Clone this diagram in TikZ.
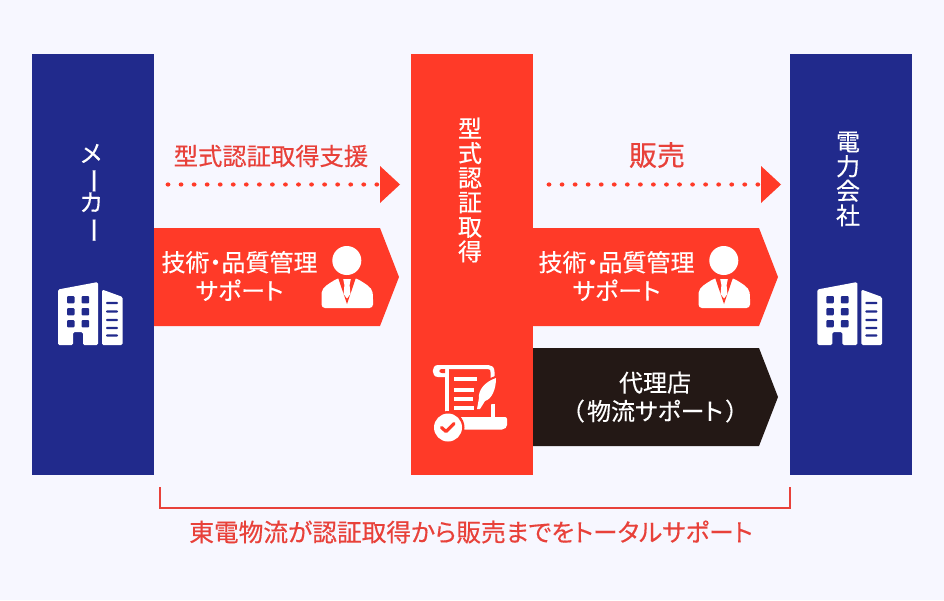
\documentclass[tikz,border=0pt]{standalone}
\usepackage{fontspec}
\setmainfont{Noto Sans CJK JP}[FakeBold=0.35, RawFeature=+palt]
\usepackage{graphicx}
\definecolor{navyblue}{HTML}{212A8C}
\definecolor{redfill}{HTML}{FF3A28}
\definecolor{redtext}{HTML}{E8413A}
\definecolor{blackfill}{HTML}{231815}
\definecolor{backfill}{HTML}{F7F7FF}
\tikzset{
	label/.style={text=white, align=center, inner sep=0pt},
	vertlabel/.style={label, font=\fontsize{24}{24.6}\selectfont},
	bannerlabel/.style={label, font=\fontsize{24}{28.5}\selectfont},
	titlelabel/.style={text=redtext, inner sep=0pt, font=\fontsize{24.3}{28}\selectfont},
}
\newcommand{\longbar}{\smash{\kern-3pt\rotatebox[origin=c]{-90}{\scalebox{1.1}[1.15]{ー}}}}
\newcommand{\arrowdots}[2] % x start, x of triangle
{
	\foreach \i in {0,...,16}
		\fill[redfill] (#1+13.05*\i,184.5) ellipse (2.4 and 2.1);
	\fill[redfill] (#2,166) -- (#2+20,184.5) -- (#2,203) -- cycle;
}
\newcommand{\banner}[4] % x start, x corner, y top, colour
{
	\fill[#4] (#1,#3) -- (#2,#3) -- (#2+19,#3+49) -- (#2,#3+98) -- (#1,#3+98) -- cycle;
}
\newcommand{\building}[1] % x shift
{
	\begin{scope}[xshift=#1pt]
	% two blocks
	\fill[white, rounded corners=1.5pt] (58,345) -- (58,289.5) -- (98,282) -- (98,345) -- (83,345) -- (83,332) -- (73,332) -- (73,345) -- cycle;
	\fill[white, rounded corners=1.5pt] (102,289.5) -- (122.7,297) -- (122.7,345) -- (102,345) -- cycle;
	% windows
	\foreach \y in {296,308,320}
	{
		\fill[navyblue, rounded corners=1pt] (67,\y) rectangle (74.5,\y+7.4);
		\fill[navyblue, rounded corners=1pt] (81.5,\y) rectangle (89.2,\y+7.4);
	}
	\foreach \y in {303,311.5,320,328,335.5}
		\fill[navyblue, rounded corners=1pt] (106,\y-1.2) rectangle (118,\y+1.2);
	\end{scope}
}
\newcommand{\person}[1] % x shift
{
	\begin{scope}[xshift=#1pt]
	\fill[white] (346.8,260.5) circle (14.5);
	\fill[white, rounded corners=3.5pt] (321.5,308) -- (321.5,296) .. controls (322,287) and (330,283) .. (338,278) -- (356,278) .. controls (364,283) and (372,287) .. (373,296) -- (373,308) -- cycle;
	% collar and tie
	\fill[redfill] (338,277.5) -- (356,277.5) -- (347,304) -- cycle;
	\fill[white] (343.2,279) -- (350.8,279) -- (349.6,285) -- (350.4,294) -- (347,298.5) -- (343.6,294) -- (344.4,285) -- cycle;
	\end{scope}
}
\newcommand{\scrollicon}
{
	% sheet
	\draw[white, line width=4pt, line join=round] (447,367) -- (488,367) .. controls (491,367) and (492.5,368.5) .. (492.5,372) -- (492.5,384);
	\draw[white, line width=4pt] (492.5,404) -- (492.5,419);
	\draw[white, line width=4pt] (447,367) -- (447,412);
	\fill[white] (447,365) -- (438,365) .. controls (431,365) and (431,377) .. (438,377) -- (447,377) -- cycle;
	\fill[redfill] (442,369) .. controls (438.5,369) and (438.5,373) .. (442,373) -- (445,373) -- (445,369) -- cycle;
	% lines
	\foreach \y/\x in {379/477,390/474,399/473,408/474}
		\fill[white] (454,\y-1.7) rectangle (\x,\y+1.7);
	% feather
	\fill[redfill] (500,374) -- (476,384) -- (474,412) -- (492,404) -- cycle;
	\fill[white] (496,378) .. controls (484,382) and (478,391) .. (479,398) -- (477,409) -- (480,409) -- (485,401) .. controls (492,399) and (496,389) .. (496,378) -- cycle;
	% base
	\fill[white, rounded corners=2pt] (455,417) -- (507,417) -- (507,423) .. controls (507,427) and (505,429.5) .. (500,429.5) -- (455,429.5) -- cycle;
	% check badge
	\fill[redfill] (448,427.5) circle (16.5);
	\fill[white] (448,427.5) circle (14);
	\draw[redfill, line width=3.2pt, line cap=round, line join=round] (441.5,427.5) -- (446,431.5) -- (454,423.5);
}

\begin{document}
\begin{tikzpicture}[x=1pt, y=-1pt]
	\useasboundingbox (0,0) rectangle (944,600);
	\fill[backfill] (0,0) rectangle (944,600);
	
	% columns
	\fill[navyblue] (32,54) rectangle (154,475);
	\fill[redfill] (411,54) rectangle (533,475);
	\fill[navyblue] (790,54) rectangle (912,475);
	
	\node[vertlabel] (maker) at (91,190) {メ\\\longbar\\カ\\\longbar};
	\node[vertlabel] (typecert) at (470,190) {型\\式\\認\\証\\取\\得};
	\node[vertlabel] (utility) at (848,179) {電\\力\\会\\社};
	
	\building{0}
	\building{759.3}
	
	% top arrows
	\node[titlelabel] (support) at (271,156) {型式認証取得支援};
	\arrowdots{168}{380}
	\node[titlelabel, font=\fontsize{28}{30}\selectfont] (sales) at (657,155) {販売};
	\arrowdots{549}{761}
	
	% banners
	\banner{154}{380}{228}{redfill}
	\banner{533}{759}{228}{redfill}
	\banner{533}{759}{348}{blackfill}
	\node[bannerlabel] (quality) at (239.5,276) {技術・品質管理\\サポート};
	\node[bannerlabel] (qualityb) at (616.5,276) {技術・品質管理\\サポート};
	\node[bannerlabel] (agency) at (655,397) {代理店\\（\kern3pt 物流サポート\kern3pt ）};
	\person{0}
	\person{377}
	\scrollicon
	
	% bracket
	\coordinate (bracketl) at (160,487);
	\coordinate (bracketr) at (790,487);
	\draw[redtext, line width=1.2pt] (bracketl) -- (160,508) -- (790,508) -- (bracketr);
	\node[titlelabel, font=\fontsize{24.7}{28}\selectfont] (total) at (471,532) {東電物流が認証取得から販売までをトータルサポート};
\end{tikzpicture}
\end{document}
